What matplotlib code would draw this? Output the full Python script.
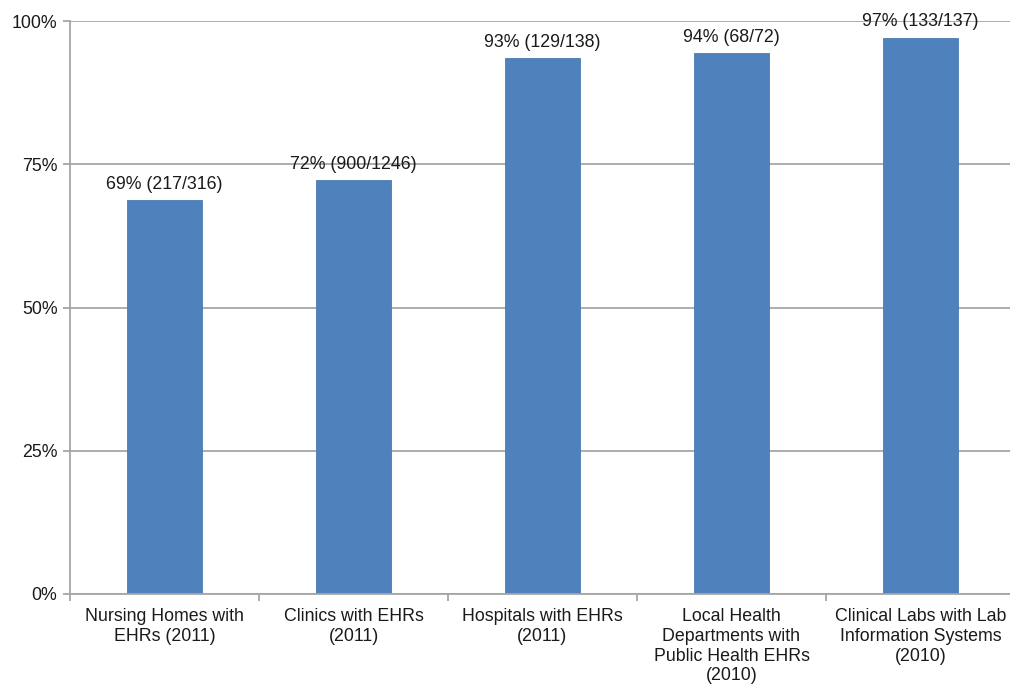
import matplotlib.pyplot as plt
import numpy as np

plt.rcParams['font.family'] = ['Liberation Sans', 'DejaVu Sans']

categories = [
    'Nursing Homes with\nEHRs (2011)',
    'Clinics with EHRs\n(2011)',
    'Hospitals with EHRs\n(2011)',
    'Local Health\nDepartments with\nPublic Health EHRs\n(2010)',
    'Clinical Labs with Lab\nInformation Systems\n(2010)',
]
percent = [68.7, 72.2, 93.5, 94.4, 97.1]
value_labels = ['69% (217/316)', '72% (900/1246)', '93% (129/138)',
                '94% (68/72)', '97% (133/137)']
yticks = [0, 25, 50, 75, 100]

fig = plt.figure(figsize=(10.10, 6.87), dpi=100)
ax = fig.add_axes([70 / 1010, 1 - 594 / 687, 945 / 1010, 573 / 687])

x = np.arange(len(categories))
grid_color = '#a6a6a6'
text_color = '#1a1a1a'
fs = 12.8
ax.set_axisbelow(True)
ax.yaxis.grid(True, color=grid_color, linewidth=1.3)
ax.bar(x, percent, width=0.4, color='#4f81bd', edgecolor='#4a7ab3', linewidth=0.6)

for xi, p, lab in zip(x, percent, value_labels):
    ax.text(xi, p + 1.3, lab, ha='center', va='bottom', fontsize=fs, color=text_color)

ax.set_xlim(-0.5, len(categories) - 0.5)
ax.set_ylim(0, 100)
ax.set_yticks(yticks)
ax.set_yticklabels([f'{t}%' for t in yticks], fontsize=fs, color=text_color)

# ticks at category boundaries, labels centred under bars
ax.set_xticks(np.arange(len(categories) + 1) - 0.5)
ax.set_xticklabels([])
ax.set_xticks(x, minor=True)
ax.set_xticklabels(categories, minor=True, fontsize=fs, color=text_color,
                   linespacing=1.22, va='top')
ax.tick_params(axis='x', which='minor', length=0, pad=10)
ax.tick_params(axis='x', which='major', length=5, color=grid_color, width=1.3)
ax.tick_params(axis='y', length=5, color=grid_color, width=1.3, pad=4)

for side in ['top', 'right']:
    ax.spines[side].set_visible(False)
for side in ['left', 'bottom']:
    ax.spines[side].set_color(grid_color)
    ax.spines[side].set_linewidth(1.3)

fig.savefig('out.png', dpi=100, facecolor='white')
